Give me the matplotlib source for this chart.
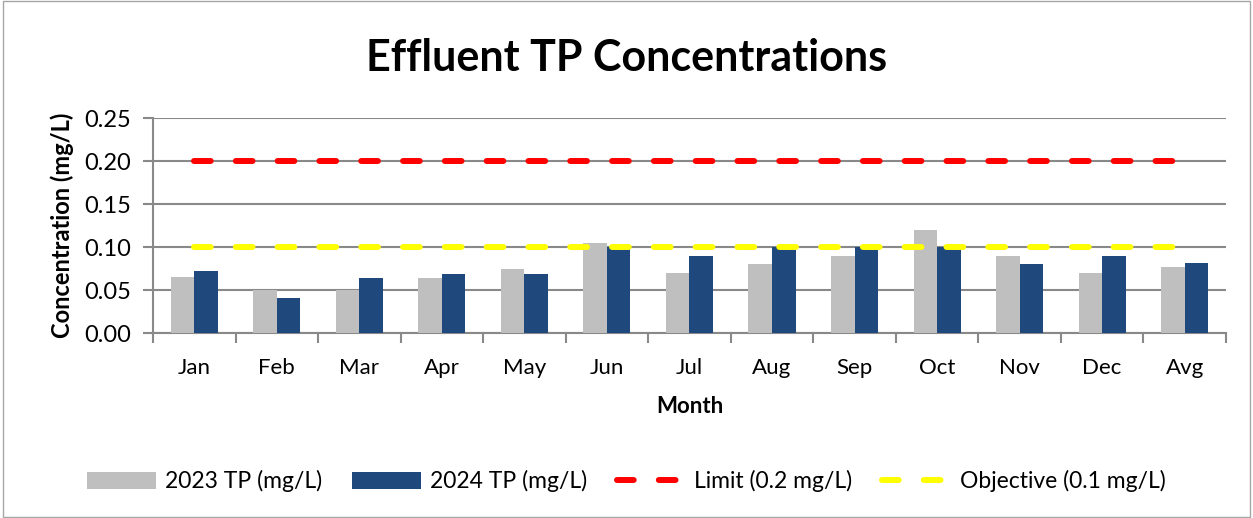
import numpy as np
import matplotlib
matplotlib.use("Agg")
import matplotlib.pyplot as plt
from matplotlib.patches import Rectangle

plt.rcParams['font.family'] = ['Lato', 'DejaVu Sans']

# monthly effluent TP (mg/L)
months = ["Jan", "Feb", "Mar", "Apr", "May", "Jun", "Jul", "Aug", "Sep", "Oct", "Nov", "Dec", "Avg"]
tp_2023 = [0.065, 0.050, 0.050, 0.064, 0.075, 0.105, 0.070, 0.080, 0.090, 0.120, 0.090, 0.070, 0.077]
tp_2024 = [0.072, 0.041, 0.064, 0.069, 0.069, 0.100, 0.090, 0.100, 0.100, 0.100, 0.080, 0.090, 0.081]
limit = [0.2] * len(months)
objective = [0.1] * len(months)
yticks = [0.00, 0.05, 0.10, 0.15, 0.20, 0.25]

grid_col = "#898989"

fig = plt.figure(figsize=(12.53, 5.18), dpi=100)
ax = fig.add_axes([0.1221, 0.357, 0.8563, 0.415])

x = np.arange(len(months))
w = 0.285
b1 = ax.bar(x - w / 2, tp_2023, w, color="#bfbfbf", label="2023 TP (mg/L)", zorder=3)
b2 = ax.bar(x + w / 2, tp_2024, w, color="#1f497d", label="2024 TP (mg/L)", zorder=3)

l1, = ax.plot(x, limit, color="#ff0000", lw=4.3, label="Limit (0.2 mg/L)",
              dash_capstyle="round", zorder=4)
l2, = ax.plot(x, objective, color="#ffff00", lw=4.3, label="Objective (0.1 mg/L)",
              dash_capstyle="round", zorder=4)
for ln in (l1, l2):
    ln.set_dashes((2.8, 4.2))

ax.set_xlim(-0.5, len(months) - 0.5)
ax.set_ylim(0, 0.25)
ax.set_yticks(yticks)
ax.set_yticklabels([f"{v:.2f}" for v in yticks])
ax.set_xticks(x)
ax.set_xticklabels(months)
ax.set_xticks(np.arange(-0.5, len(months)), minor=True)
ax.tick_params(axis="x", which="major", length=0, labelsize=16, pad=18)
ax.tick_params(axis="x", which="minor", length=7, color=grid_col, width=1.5)
ax.tick_params(axis="y", length=7, color=grid_col, width=1.5, labelsize=17, pad=9)

ax.grid(axis="y", color=grid_col, lw=1.5, zorder=0)
for s in ("top", "right"):
    ax.spines[s].set_visible(False)
for s in ("left", "bottom"):
    ax.spines[s].set_color(grid_col)
    ax.spines[s].set_linewidth(1.5)

ax.set_ylabel("Concentration (mg/L)", fontsize=17, fontweight="bold", labelpad=7)
ax.set_xlabel("Month", fontsize=16, fontweight="bold", labelpad=13)
fig.suptitle("Effluent TP Concentrations", fontsize=31, fontweight="bold",
             y=0.888, va="center")

fig.legend([b1, b2, l1, l2], [h.get_label() for h in (b1, b2, l1, l2)],
           loc="center", bbox_to_anchor=(0.5, 0.071), ncol=4, frameon=False,
           fontsize=16.5, handlelength=3.0, handleheight=0.75, columnspacing=1.3,
           handletextpad=0.4)

fig.patches.append(Rectangle((0.002, 0.002), 0.996, 0.996, transform=fig.transFigure,
                             fill=False, edgecolor="#a6a6a6", lw=1))

fig.savefig("out.png", dpi=100)
